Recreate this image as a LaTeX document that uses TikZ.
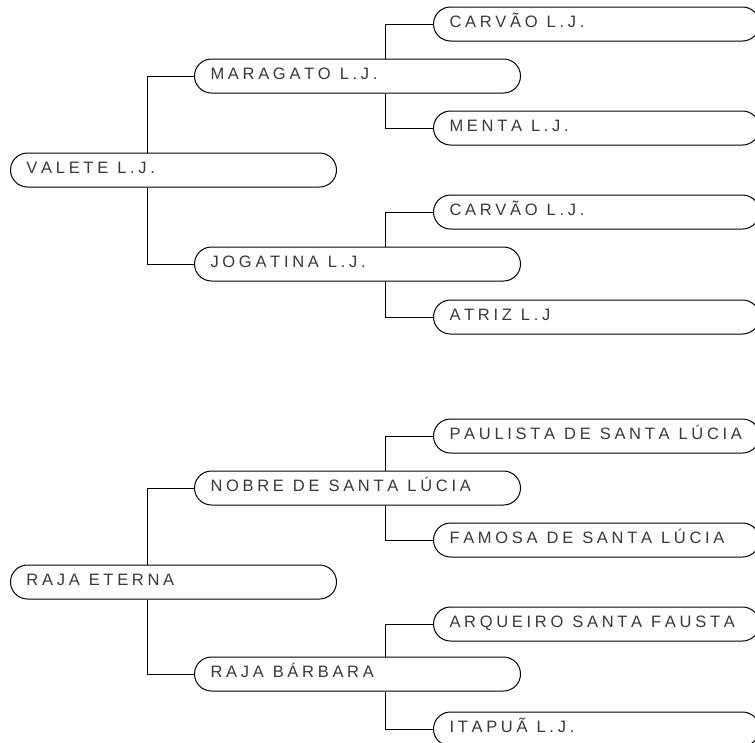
\documentclass[tikz,border=0pt]{standalone}
\usepackage{fontspec}
\setmainfont{Liberation Sans}
\usepackage{xcolor}
\usepackage{tikz}
\XeTeXinterchartoks 0 0 = {\kern3.7pt}

\begin{document}
\begin{tikzpicture}[x=1pt,y=-1pt,line width=1pt,
  horse/.style={rectangle,draw,fill=white,rounded corners=17pt,anchor=west,
    minimum height=34pt,text width=294pt,inner xsep=16pt,inner ysep=0pt,
    text height=11.8pt,text depth=4pt,text=black!78,font=\fontsize{16.5}{18}\selectfont,
    execute at begin node={\XeTeXinterchartokenstate=1 \spaceskip=9pt\relax}}]
\useasboundingbox (0,0) rectangle (755,742);
%\draw[help lines] (0,0) grid (755,742);
\path (10,170) node(a) [horse] {VALETE L.J.}
(194,76) node(b) [horse] {MARAGATO L.J.}
(194,264) node(c) [horse] {JOGATINA L.J.}
(433,24) node(d) [horse] {CARVÃO L.J.}
(433,128) node(e) [horse] {MENTA L.J.}
(433,212) node(f) [horse] {CARVÃO L.J.}
(433,317) node(g) [horse] {ATRIZ L.J};

\path (10,582) node(h) [horse] {RAJA ETERNA}
(194,488) node(i) [horse] {NOBRE DE SANTA LÚCIA}
(194,674) node(j) [horse] {RAJA BÁRBARA}
(433,436) node(k) [horse] {PAULISTA DE SANTA LÚCIA}
(433,540) node(l) [horse] {FAMOSA DE SANTA LÚCIA}
(433,624) node(m) [horse] {ARQUEIRO SANTA FAUSTA}
(433,729) node(n) [horse] {ITAPUÃ L.J.};

\draw (b.west) -| ([xshift=137pt]a.north west);
\draw (c.west) -| ([xshift=137pt]a.south west);
\draw (d.west) -| ([xshift=191pt]b.north west);
\draw (e.west) -| ([xshift=191pt]b.south west);
\draw (f.west) -| ([xshift=191pt]c.north west);
\draw (g.west) -| ([xshift=191pt]c.south west);

\draw (i.west) -| ([xshift=137pt]h.north west);
\draw (j.west) -| ([xshift=137pt]h.south west);
\draw (k.west) -| ([xshift=191pt]i.north west);
\draw (l.west) -| ([xshift=191pt]i.south west);
\draw (m.west) -| ([xshift=191pt]j.north west);
\draw (n.west) -| ([xshift=191pt]j.south west);
\end{tikzpicture}
\end{document}
